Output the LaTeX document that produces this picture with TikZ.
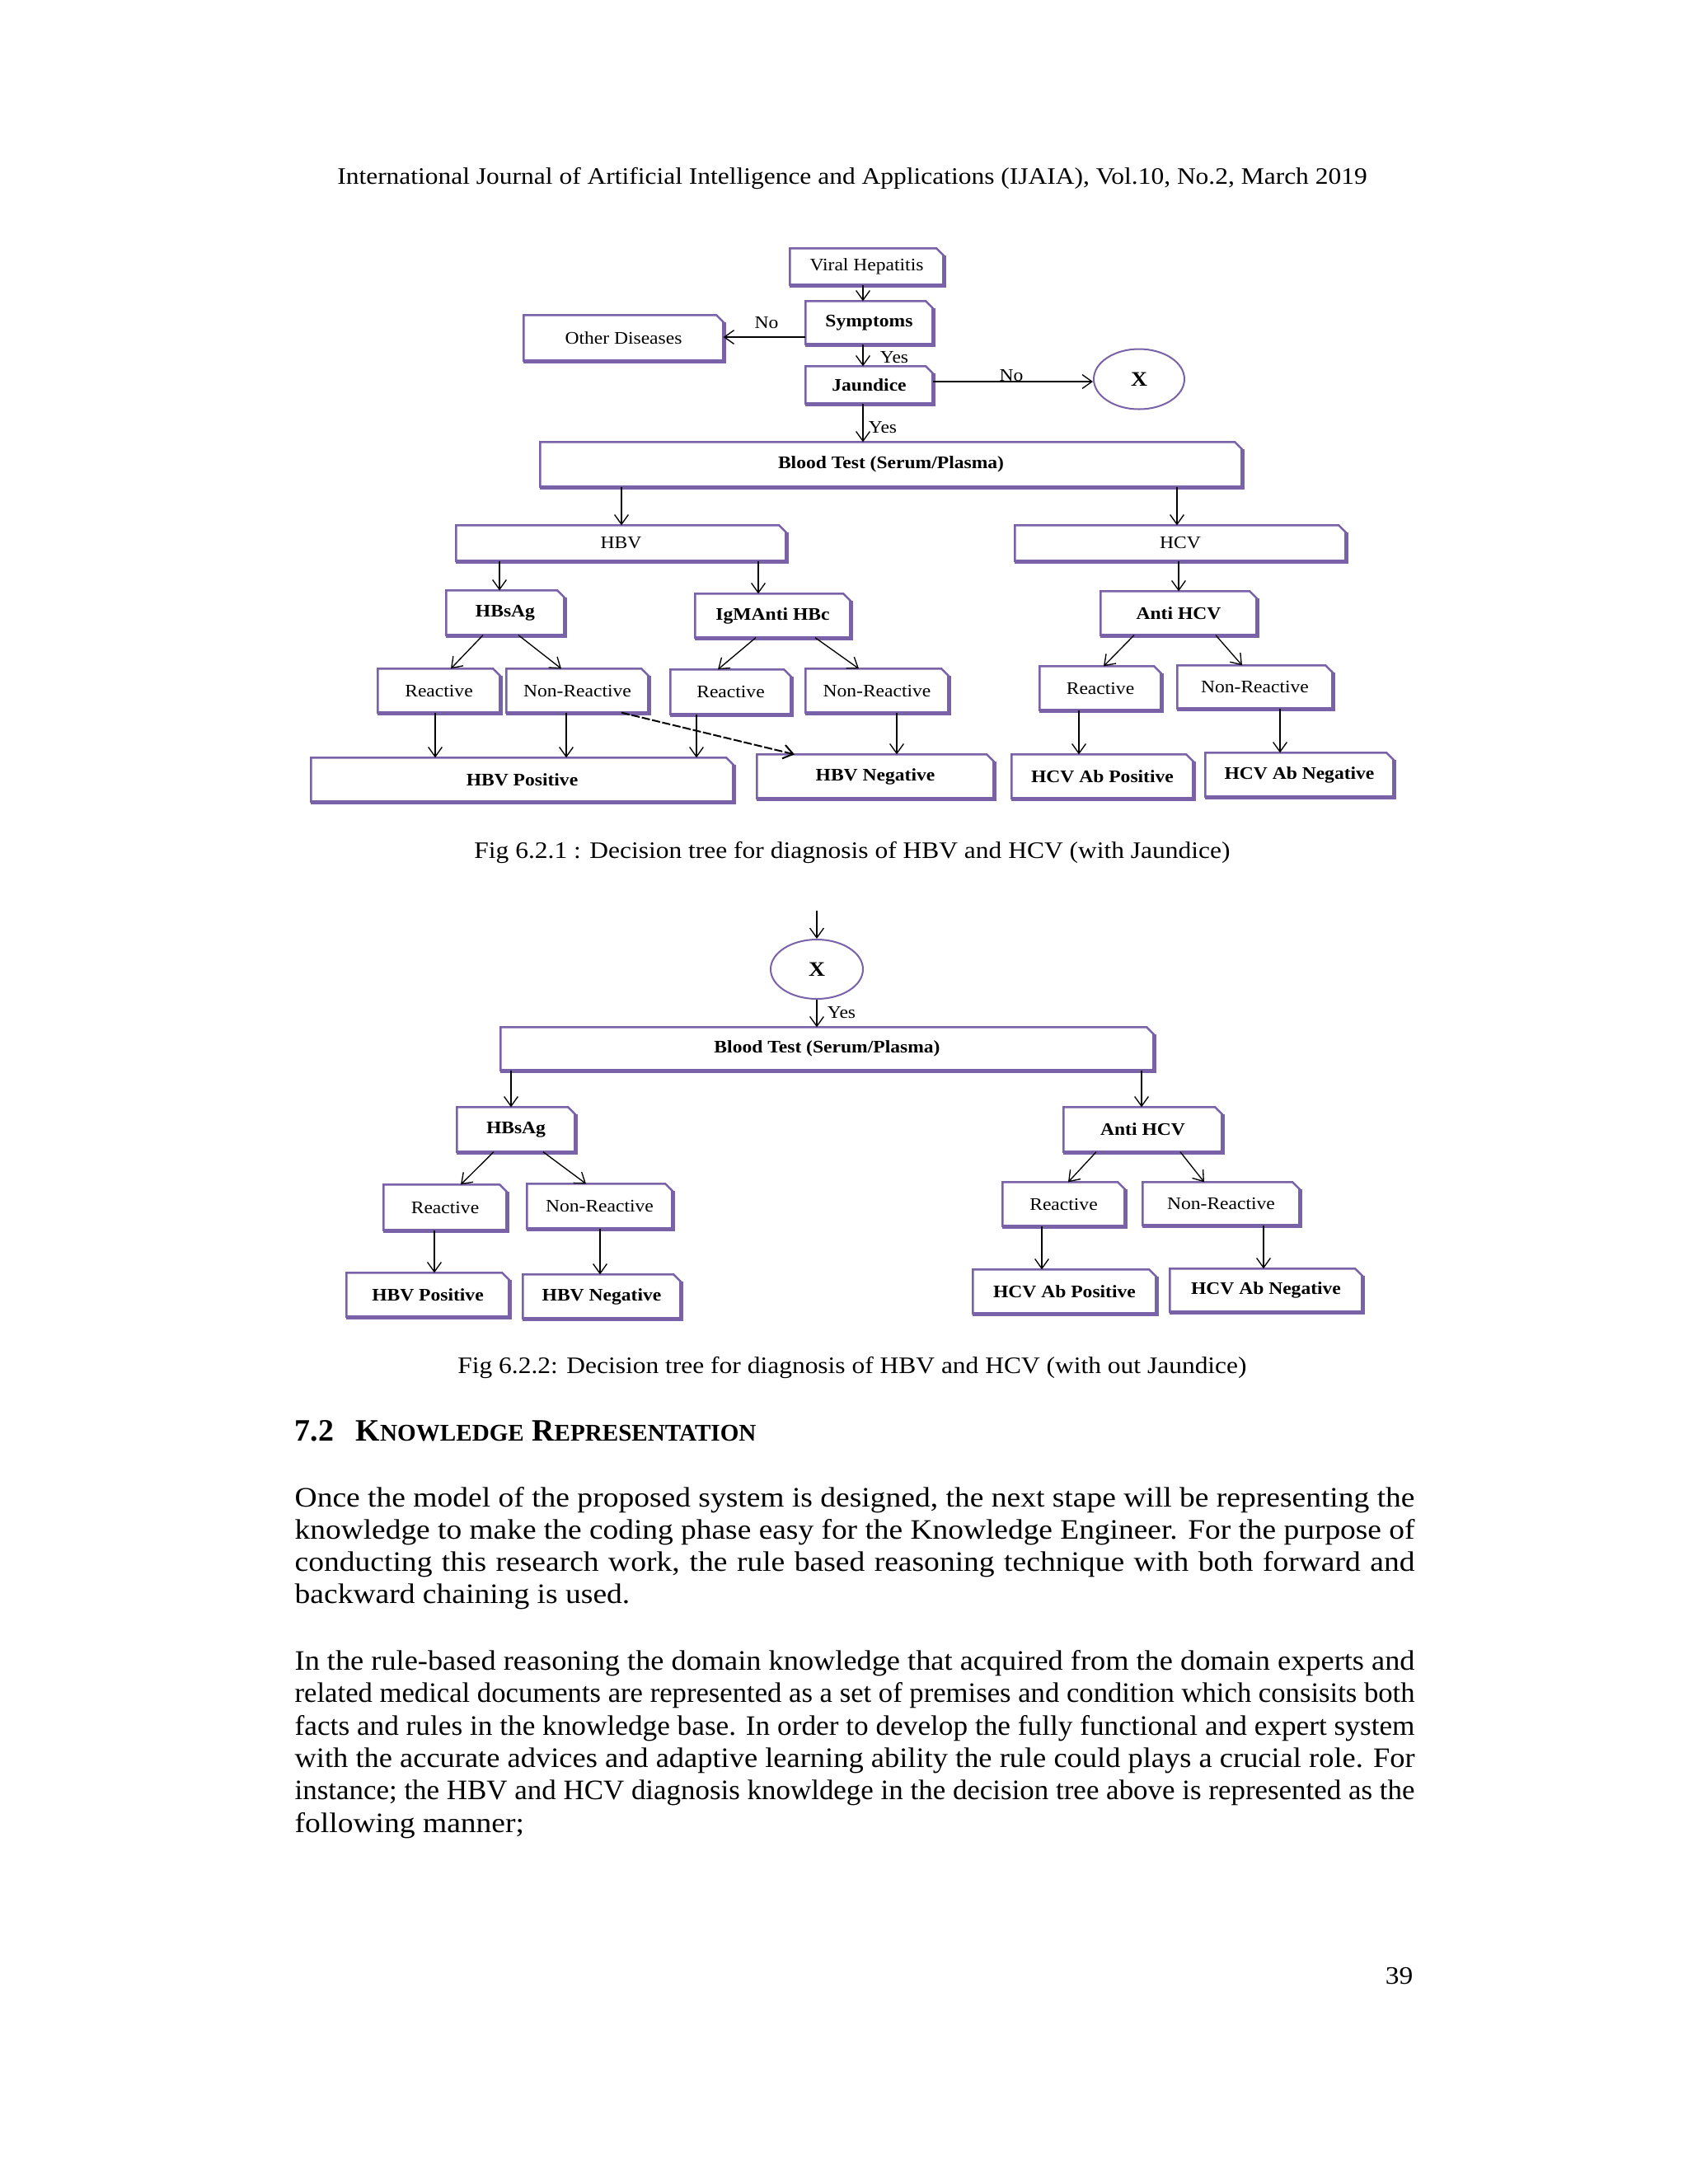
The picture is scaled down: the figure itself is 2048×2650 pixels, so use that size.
\documentclass[tikz,border=0pt]{standalone}
\usepackage{fontspec}
\setmainfont{Liberation Serif}[FakeStretch=1.1]
\newfontfamily\headfont{Liberation Serif}
\usetikzlibrary{arrows.meta,shapes.geometric}
\definecolor{boxpurple}{RGB}{122,98,168}
\tikzset{
  boxnode/.style={inner sep=0pt, align=center, font=\fontsize{6.4}{7.5}\selectfont},
  boldtxt/.style={font=\fontsize{6.4}{7.5}\selectfont\bfseries},
  plaintxt/.style={},
  boxedge/.style={draw=boxpurple, line width=0.75pt, line join=miter},
  boxshadow/.style={draw=boxpurple, line width=1.3pt},
  oval/.style={ellipse, draw=boxpurple, line width=0.6pt, inner sep=0pt, font=\fontsize{7.5}{9}\selectfont\bfseries},
  arr/.style={draw=black, line width=0.4pt, -{Straight Barb[length=3.5pt,width=5pt]}},
  dasharr/.style={arr, line width=0.6pt, dash pattern=on 3pt off 0.8pt},
  lbl/.style={font=\fontsize{6.4}{7.5}\selectfont, inner sep=0pt},
  captxt/.style={font=\fontsize{8.55}{10}\selectfont, inner sep=0pt, anchor=base},
  bodyline/.style={font=\fontsize{10.2}{12}\selectfont, inner sep=0pt, anchor=base west},
}
% name, x1, y1, x2, y2, text style, text
\newcommand\mkbox[7]{%
  \node[boxnode, #6, minimum width={(#4-#2)*0.2988pt}, minimum height={(#5-#3)*0.2988pt}] (#1) at ({(#2+#4)/2},{(#3+#5)/2}) {#7};
  \draw[boxedge] (#1.south west) -- (#1.north west) -- ([xshift=-2.5pt]#1.north east) -- ([yshift=-2.5pt]#1.north east) -- (#1.south east) -- cycle;
  \draw[boxshadow] ([yshift=-2.5pt,xshift=0.25pt]#1.north east) -- ([xshift=0.25pt,yshift=-0.25pt]#1.south east) -- ([yshift=-0.25pt]#1.south west);
}
\newsavebox\mylinebox
\newcommand\fitline[1]{\sbox\mylinebox{#1}\ifdim\wd\mylinebox>406pt \resizebox{406pt}{\height}{\usebox\mylinebox}\else\makebox[406pt][s]{#1}\fi}
\newcommand\jline[3]{\node[bodyline] (#1) at (357,#2) {\fitline{#3}};}
\newcommand\eline[3]{\node[bodyline] (#1) at (357,#2) {#3};}
\begin{document}
\begin{tikzpicture}[x=0.2988pt,y=-0.2988pt]
\useasboundingbox (0,0) rectangle (2048,2650);
\fill[white] (0,0) rectangle (2048,2650);

% header
\node[captxt] (header) at (1034,223) {International Journal of Artificial Intelligence and Applications (IJAIA), Vol.10, No.2, March 2019};

% ---------------- Diagram 1 ----------------
\mkbox{vh}{959}{302}{1144}{345}{plaintxt}{Viral Hepatitis}
\mkbox{sym}{978}{366}{1131}{417}{boldtxt}{Symptoms}
\mkbox{od}{636}{383}{877}{437}{plaintxt}{Other Diseases}
\mkbox{jau}{978}{445}{1131}{489}{boldtxt}{Jaundice}
\node[oval, minimum width={110*0.2988pt}, minimum height={73*0.2988pt}] (xa) at (1382,460) {X};
\mkbox{bta}{656}{537}{1506}{590}{boldtxt}{Blood Test (Serum/Plasma)}
\mkbox{hbv}{554}{638}{953}{680}{plaintxt}{HBV}
\mkbox{hcv}{1232}{638}{1632}{680}{plaintxt}{HCV}
\mkbox{hbsag}{542}{717}{684}{770}{boldtxt}{HBsAg}
\mkbox{igm}{844}{721}{1031}{773}{boldtxt}{IgMAnti HBc}
\mkbox{ra}{459}{812}{606}{864}{plaintxt}{Reactive}
\mkbox{na}{615}{812}{786}{864}{plaintxt}{Non-Reactive}
\mkbox{rb}{814}{813}{959}{866}{plaintxt}{Reactive}
\mkbox{nb}{978}{812}{1150}{864}{plaintxt}{Non-Reactive}
\mkbox{hbvpos}{378}{920}{889}{972}{boldtxt}{HBV Positive}
\mkbox{hbvneg}{919}{916}{1205}{968}{boldtxt}{HBV Negative}
\mkbox{ahcv}{1336}{718}{1524}{770}{boldtxt}{Anti HCV}
\mkbox{rc}{1262}{809}{1408}{861}{plaintxt}{Reactive}
\mkbox{nc}{1429}{808}{1616}{859}{plaintxt}{Non-Reactive}
\mkbox{hcvpos}{1228}{916}{1447}{968}{boldtxt}{HCV Ab Positive}
\mkbox{hcvneg}{1463}{914}{1690}{966}{boldtxt}{HCV Ab Negative}

\draw[arr] (vh.south -| 1047,0) -- (sym.north -| 1047,0);
\draw[arr] (sym.west |- 0,409) -- (od.east |- 0,409);
\node[lbl] (noa) at (930,392) {No};
\draw[arr] (sym.south -| 1047,0) -- (jau.north -| 1047,0);
\node[lbl] (yesa) at (1085,434) {Yes};
\draw[arr] (jau.east |- 0,463) -- (xa.west |- 0,463);
\node[lbl] (nob) at (1227,456) {No};
\draw[arr] (jau.south -| 1047,0) -- (bta.north -| 1047,0);
\node[lbl] (yesb) at (1071,519) {Yes};
\draw[arr] (bta.south -| 754,0) -- (hbv.north -| 754,0);
\draw[arr] (bta.south -| 1428,0) -- (hcv.north -| 1428,0);
\draw[arr] (hbv.south -| 606,0) -- (hbsag.north -| 606,0);
\draw[arr] (hbv.south -| 920,0) -- (igm.north -| 920,0);
\draw[arr] (hcv.south -| 1430,0) -- (ahcv.north -| 1430,0);
\draw[arr] (hbsag.south -| 586,0) -- (ra.north -| 547,0);
\draw[arr] (hbsag.south -| 629,0) -- (na.north -| 681,0);
\draw[arr] (igm.south -| 917,0) -- (rb.north -| 871,0);
\draw[arr] (igm.south -| 989,0) -- (nb.north -| 1042,0);
\draw[arr] (ra.south -| 528,0) -- (hbvpos.north -| 528,0);
\draw[arr] (na.south -| 687,0) -- (hbvpos.north -| 687,0);
\draw[arr] (rb.south -| 845,0) -- (hbvpos.north -| 845,0);
\draw[dasharr] (na.south -| 754,0) -- (hbvneg.north -| 964,0);
\draw[arr] (nb.south -| 1088,0) -- (hbvneg.north -| 1088,0);
\draw[arr] (ahcv.south -| 1376,0) -- (rc.north -| 1339,0);
\draw[arr] (ahcv.south -| 1475,0) -- (nc.north -| 1507,0);
\draw[arr] (rc.south -| 1309,0) -- (hcvpos.north -| 1309,0);
\draw[arr] (nc.south -| 1553,0) -- (hcvneg.north -| 1553,0);

\node[captxt] (capa) at (1034,1041) {Fig 6.2.1 : Decision tree for diagnosis of HBV and HCV (with Jaundice)};

% ---------------- Diagram 2 ----------------
\coordinate (xin) at (991,1105);
\node[oval, minimum width={112*0.2988pt}, minimum height={72*0.2988pt}] (xb) at (991,1176) {X};
\mkbox{btb}{608}{1247}{1399}{1298}{boldtxt}{Blood Test (Serum/Plasma)}
\mkbox{hbsagb}{555}{1344}{697}{1397}{boldtxt}{HBsAg}
\mkbox{ahcvb}{1291}{1344}{1482}{1397}{boldtxt}{Anti HCV}
\mkbox{rd}{466}{1438}{614}{1492}{plaintxt}{Reactive}
\mkbox{nd}{640}{1437}{815}{1490}{plaintxt}{Non-Reactive}
\mkbox{hbvposb}{421}{1545}{617}{1597}{boldtxt}{HBV Positive}
\mkbox{hbvnegb}{635}{1547}{825}{1599}{boldtxt}{HBV Negative}
\mkbox{re}{1217}{1435}{1364}{1487}{plaintxt}{Reactive}
\mkbox{ne}{1387}{1435}{1576}{1486}{plaintxt}{Non-Reactive}
\mkbox{hcvposb}{1181}{1541}{1402}{1593}{boldtxt}{HCV Ab Positive}
\mkbox{hcvnegb}{1420}{1540}{1652}{1591}{boldtxt}{HCV Ab Negative}

\draw[arr] (xin) -- (xb.north);
\draw[arr] (xb.south) -- (btb.north -| xb.south);
\node[lbl] (yesc) at (1021,1229) {Yes};
\draw[arr] (btb.south -| 620,0) -- (hbsagb.north -| 620,0);
\draw[arr] (btb.south -| 1385,0) -- (ahcvb.north -| 1385,0);
\draw[arr] (hbsagb.south -| 599,0) -- (rd.north -| 559,0);
\draw[arr] (hbsagb.south -| 659,0) -- (nd.north -| 711,0);
\draw[arr] (rd.south -| 527,0) -- (hbvposb.north -| 527,0);
\draw[arr] (nd.south -| 728,0) -- (hbvnegb.north -| 728,0);
\draw[arr] (ahcvb.south -| 1330,0) -- (re.north -| 1296,0);
\draw[arr] (ahcvb.south -| 1432,0) -- (ne.north -| 1461,0);
\draw[arr] (re.south -| 1264,0) -- (hcvposb.north -| 1264,0);
\draw[arr] (ne.south -| 1533,0) -- (hcvnegb.north -| 1533,0);

\node[captxt] (capb) at (1034,1666) {Fig 6.2.2: Decision tree for diagnosis of HBV and HCV (with out Jaundice)};

% ---------------- Text ----------------
\node[inner sep=0pt, anchor=base west, font=\headfont\fontsize{11.3}{13}\selectfont\bfseries] (head) at (357,1748)
  {7.2\hspace{8pt}K{\fontsize{8.7}{10}\selectfont NOWLEDGE} R{\fontsize{8.7}{10}\selectfont EPRESENTATION}};

\jline{la}{1828}{Once the model of the proposed system is designed, the next stape will be representing the}
\jline{lb}{1867}{knowledge to make the coding phase easy for the Knowledge Engineer. For the purpose of}
\jline{lc}{1906}{conducting this research work, the rule based reasoning technique with both forward and}
\eline{ld}{1945}{backward chaining is used.}

\jline{le}{2026}{In the rule-based reasoning the domain knowledge that acquired from the domain experts and}
\jline{lf}{2065}{related medical documents are represented as a set of premises and condition which consisits both}
\jline{lg}{2105}{facts and rules in the knowledge base. In order to develop the fully functional and expert system}
\jline{lh}{2144}{with the accurate advices and adaptive learning ability the rule could plays a crucial role. For}
\jline{li}{2183}{instance; the HBV and HCV diagnosis knowldege in the decision tree above is represented as the}
\eline{lj}{2223}{following manner;}

\node[inner sep=0pt, anchor=base east, font=\fontsize{9.1}{11}\selectfont] (pgno) at (1715,2407) {39};
\end{tikzpicture}
\end{document}
